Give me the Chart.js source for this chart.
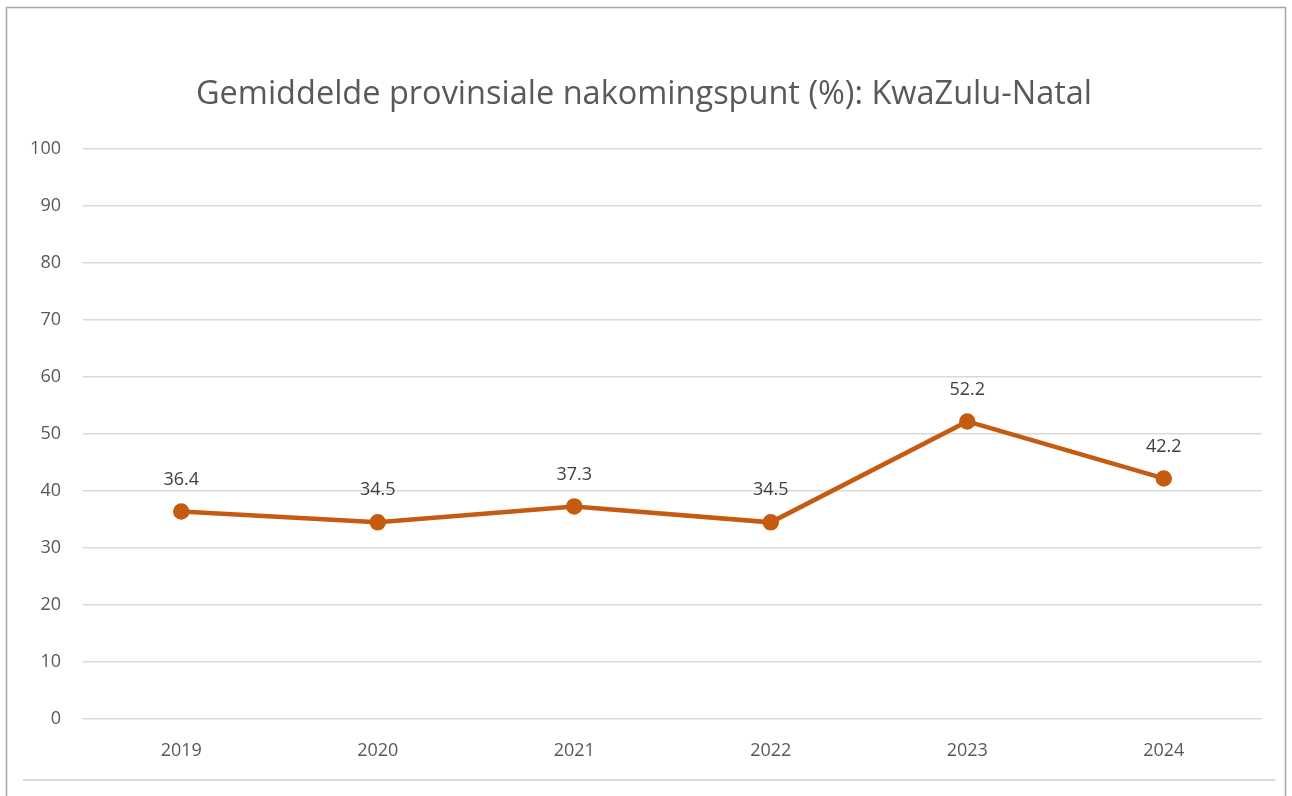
<!DOCTYPE html>
<html><head><meta charset="utf-8">
<script src="https://cdn.jsdelivr.net/npm/chart.js@4"></script>
<style>html,body{margin:0;padding:0;background:#fff;}#wrap{width:1292px;height:796px;position:relative;}</style>
</head><body><div id="wrap"><canvas id="c"></canvas></div>
<script>
const categories = ["2019","2020","2021","2022","2023","2024"];
const values = [36.4, 34.5, 37.3, 34.5, 52.2, 42.2];
const yTicks = [0,10,20,30,40,50,60,70,80,90,100];
const titleText = "Gemiddelde provinsiale nakomingspunt (%): KwaZulu-Natal";

const FONT = "'Open Sans', 'Liberation Sans', sans-serif";
const frame = {
  id: 'frame',
  beforeDraw(chart){
    const ctx = chart.ctx;
    ctx.save();
    ctx.fillStyle = '#fff';
    ctx.fillRect(0,0,chart.width,chart.height);
    ctx.strokeStyle = '#a6a6a6';
    ctx.lineWidth = 1.5;
    ctx.beginPath();
    ctx.moveTo(6.5, 796); ctx.lineTo(6.5, 7.5); ctx.lineTo(1285.5, 7.5); ctx.lineTo(1285.5, 796);
    ctx.stroke();
    ctx.strokeStyle = '#d9d9d9';
    ctx.lineWidth = 2;
    ctx.beginPath(); ctx.moveTo(23, 780); ctx.lineTo(1275, 780); ctx.stroke();
    ctx.restore();
  },
  afterDatasetsDraw(chart){
    const ctx = chart.ctx;
    const meta = chart.getDatasetMeta(0);
    ctx.save();
    ctx.font = "18px " + FONT;
    ctx.fillStyle = '#404040';
    ctx.textAlign = 'center';
    ctx.textBaseline = 'middle';
    meta.data.forEach((pt,i)=>{
      ctx.fillText(values[i].toFixed(1), pt.x, pt.y - 32);
    });
    ctx.restore();
  }
};

new Chart(document.getElementById('c'), {
  type: 'line',
  data: { labels: categories, datasets: [{
    data: values, borderColor: '#C55A11', backgroundColor: '#C55A11',
    borderWidth: 4.5, pointRadius: 6, pointHoverRadius: 6, tension: 0
  }]},
  options: {
    responsive: true, maintainAspectRatio: false, animation: false,
    layout: { padding: { left: 26, right: 30, top: 0, bottom: 0 } },
    plugins: {
      legend: { display: false }, tooltip: { enabled: false },
      title: { display: true, text: titleText, color: '#595959',
        font: { family: FONT, size: 32.5, weight: 'normal' }, padding: { top: 75, bottom: 35 } }
    },
    scales: {
      x: { offset: true, grid: { display: false, drawTicks: false }, border: { display: false },
        ticks: { color: '#595959', font: { family: FONT, size: 18 }, padding: 21 },
        afterFit(s){ s.height = 77; } },
      y: { min: 0, max: 100, afterBuildTicks(s){ s.ticks = yTicks.map(v=>({value:v})); },
        grid: { color: '#d9d9d9', lineWidth: 1.5, drawTicks: false }, border: { display: false },
        ticks: { color: '#595959', font: { family: FONT, size: 18 }, padding: 22 },
        afterFit(s){ s.width = 57; } }
    }
  },
  plugins: [frame]
});
</script></body></html>
